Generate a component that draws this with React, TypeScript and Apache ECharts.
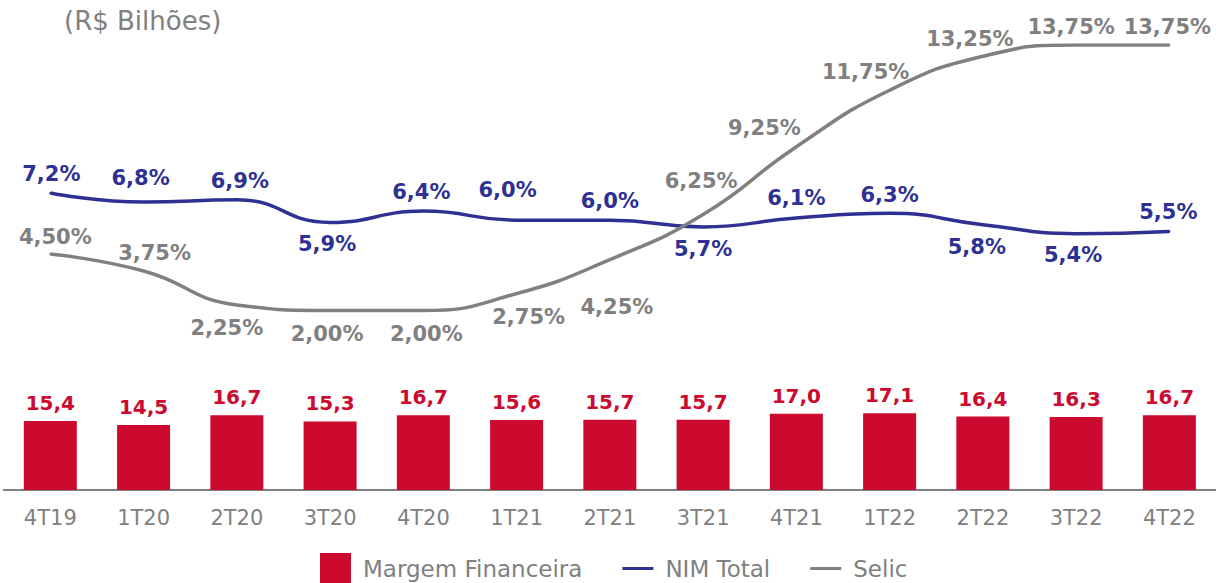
import React, { useEffect, useRef } from "react";
import * as echarts from "echarts";

const categories = ["4T19", "1T20", "2T20", "3T20", "4T20", "1T21", "2T21", "3T21", "4T21", "1T22", "2T22", "3T22", "4T22"];
const margemFinanceira = [15.4, 14.5, 16.7, 15.3, 16.7, 15.6, 15.7, 15.7, 17.0, 17.1, 16.4, 16.3, 16.7];
const nimTotal = [7.2, 6.8, 6.9, 5.9, 6.4, 6.0, 6.0, 5.7, 6.1, 6.3, 5.8, 5.4, 5.5];
const selic = [4.5, 3.75, 2.25, 2.0, 2.0, 2.75, 4.25, 6.25, 9.25, 11.75, 13.25, 13.75, 13.75];

// label offsets (px) relative to each point
const nimLabelOffsets: [number, number][] = [
  [1, -19], [-3, -24], [3, -19], [-3, 22], [-2, -19], [-9, -30], [0, -19],
  [0, 22], [0, -20], [0, -18], [-6, 22], [-3, 21], [-1, -19],
];
const selicLabelOffsets: [number, number][] = [
  [5, -17], [11, -18], [-10, 23], [-3, 23], [3, 23], [12, 23], [7, 47],
  [-2, -34], [-32, -19], [-24, -18], [-13, -17], [-5, -18], [-2, -18],
];

const RED = "#CC0A2F";
const BLUE = "#2E3192";
const GRAY = "#808080";
const FONT = "'DejaVu Sans', 'Noto Sans', sans-serif";

const fmt = (v: number, d: number) => v.toFixed(d).replace(".", ",");
const lineIcon = "path://M0,0M31,31M0,14L31,14L31,17L0,17Z";

export default function App() {
  const ref = useRef<HTMLDivElement>(null);
  useEffect(() => {
    document.body.style.margin = "0";
    if (!ref.current) return;
    const chart = echarts.init(ref.current, null, { renderer: "svg" });
    chart.setOption({
      animation: false,
      backgroundColor: "#ffffff",
      graphic: [
        {
          type: "text",
          left: 64,
          top: 8,
          style: { text: "(R$ Bilhões)", fill: GRAY, font: `26px ${FONT}` },
        },
      ],
      legend: {
        left: 320,
        top: 553,
        padding: 0,
        itemWidth: 31,
        itemHeight: 31,
        itemGap: 40,
        textStyle: { color: GRAY, fontSize: 23, fontFamily: FONT, padding: [0, 0, 0, 7] },
        data: [
          { name: "Margem Financeira", icon: "rect" },
          { name: "NIM Total", icon: lineIcon },
          { name: "Selic", icon: lineIcon },
        ],
      },
      grid: { left: 3.7, width: 1216.6, top: 45, height: 445 },
      xAxis: {
        type: "category",
        data: categories,
        axisLine: { show: true, lineStyle: { color: GRAY, width: 2 } },
        axisTick: { show: false },
        axisLabel: { color: GRAY, fontSize: 21, fontFamily: FONT, margin: 17 },
      },
      yAxis: [
        { type: "value", min: 0, max: 99.3, show: false, splitLine: { show: false } },
        { type: "value", min: -5.94, max: 13.75, show: false, splitLine: { show: false } },
      ],
      series: [
        {
          name: "Margem Financeira",
          type: "bar",
          data: margemFinanceira,
          barWidth: 53,
          itemStyle: { color: RED },
          label: {
            show: true,
            position: "top",
            distance: 8,
            color: RED,
            fontSize: 20,
            fontWeight: "bold",
            fontFamily: FONT,
            formatter: (p: any) => fmt(p.value, 1),
          },
        },
        {
          name: "NIM Total",
          type: "line",
          yAxisIndex: 1,
          smooth: 0.5,
          symbol: "circle",
          symbolSize: 2,
          showSymbol: true,
          lineStyle: { color: BLUE, width: 3.5 },
          itemStyle: { color: BLUE },
          data: nimTotal.map((v, i) => ({ value: v, label: { offset: nimLabelOffsets[i] } })),
          label: {
            show: true,
            position: "inside",
            color: BLUE,
            fontSize: 21,
            fontWeight: "bold",
            fontFamily: FONT,
            formatter: (p: any) => fmt(p.value, 1) + "%",
          },
        },
        {
          name: "Selic",
          type: "line",
          yAxisIndex: 1,
          smooth: 0.5,
          symbol: "circle",
          symbolSize: 2,
          showSymbol: true,
          lineStyle: { color: GRAY, width: 3.5 },
          itemStyle: { color: GRAY },
          data: selic.map((v, i) => ({ value: v, label: { offset: selicLabelOffsets[i] } })),
          label: {
            show: true,
            position: "inside",
            color: GRAY,
            fontSize: 21,
            fontWeight: "bold",
            fontFamily: FONT,
            formatter: (p: any) => fmt(p.value, 2) + "%",
          },
        },
      ],
    });
    return () => chart.dispose();
  }, []);
  return <div ref={ref} style={{ width: 1216, height: 583 }} />;
}
